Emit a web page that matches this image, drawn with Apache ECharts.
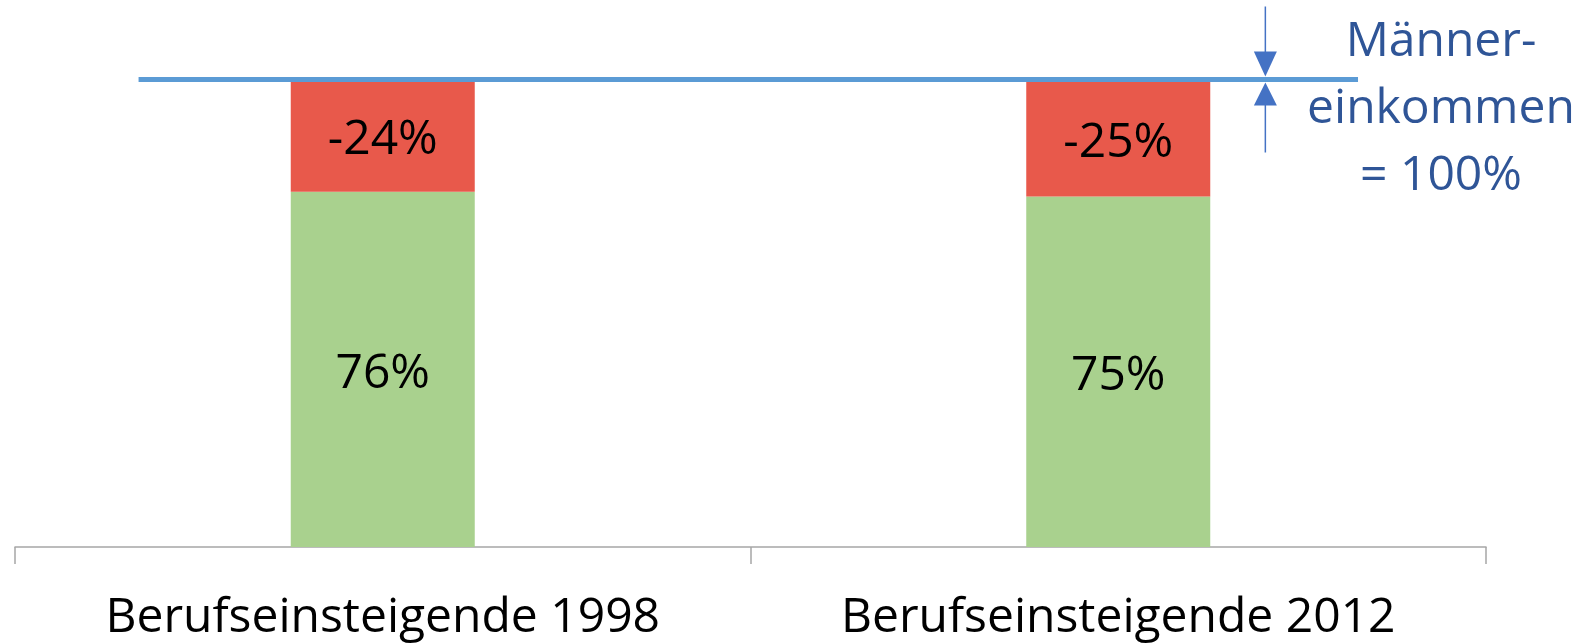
<!DOCTYPE html>
<html>
<head>
<meta charset="utf-8">
<script src="https://cdn.jsdelivr.net/npm/echarts@6/dist/echarts.min.js"></script>
<style>
  html, body { margin: 0; padding: 0; background: #fff; }
  #main { width: 1580px; height: 644px; }
</style>
</head>
<body>
<div id="main"></div>
<script>
// Daten
const categories = ['Berufseinsteigende 1998', 'Berufseinsteigende 2012'];
const womenShare = [76, 75];   // Fraueneinkommen in % vom Männereinkommen
const gapShare = [24, 25];     // Lücke zum Männereinkommen
const referenceValue = 100;    // Männereinkommen = 100%
const refLineSpan = [0.084, 0.913];  // Ausdehnung der Referenzlinie (Anteil der x-Breite)
const arrowPos = 0.85;
const refLabel = 'Männer-\neinkommen\n= 100%';

const FONT = '"Open Sans", "Noto Sans", sans-serif';
const chart = echarts.init(document.getElementById('main'));

chart.setOption({
    animation: false,
    grid: { left: 15, right: 94, top: 79.5, bottom: 97 },
    xAxis: [
        {
            type: 'category',
            data: categories,
            axisLine: { lineStyle: { color: '#A6A6A6', width: 1.5 } },
            axisTick: { show: true, length: 17, lineStyle: { color: '#A6A6A6', width: 1.5 } },
            axisLabel: { color: '#000', fontFamily: FONT, fontSize: 48, margin: 47 }
        },
        { type: 'value', min: 0, max: 1, show: false }
    ],
    yAxis: { type: 'value', min: 0, max: 100, show: false },
    series: [
        {
            name: 'Frauen',
            type: 'bar',
            stack: 'a',
            barWidth: 184,
            itemStyle: { color: '#A9D18E' },
            label: {
                show: true, position: 'inside', color: '#000',
                fontFamily: FONT, fontSize: 48, offset: [0, 5],
                formatter: p => p.value + '%'
            },
            data: womenShare
        },
        {
            name: 'Lücke',
            type: 'bar',
            stack: 'a',
            barWidth: 184,
            itemStyle: { color: '#E8594B' },
            label: {
                show: true, position: 'inside', color: '#000',
                fontFamily: FONT, fontSize: 48, offset: [0, 5],
                formatter: p => '-' + p.value + '%'
            },
            data: gapShare
        },
        {
            name: 'Männer',
            type: 'line',
            xAxisIndex: 1,
            symbol: 'none',
            lineStyle: { color: '#5B9BD5', width: 5 },
            z: 5,
            data: refLineSpan.map(x => [x, referenceValue])
        }
    ]
});

// Pfeile und Beschriftung an der Referenzlinie
const ax = chart.convertToPixel({ xAxisIndex: 1 }, arrowPos);
const ay = chart.convertToPixel({ yAxisIndex: 0 }, referenceValue);
const arrowColor = '#4472C4';
chart.setOption({
    graphic: [
        { type: 'line', shape: { x1: ax, y1: ay - 73, x2: ax, y2: ay - 20 }, style: { stroke: arrowColor, lineWidth: 1.5 } },
        { type: 'polygon', shape: { points: [[ax - 11.5, ay - 28], [ax + 11.5, ay - 28], [ax, ay - 3]] }, style: { fill: arrowColor } },
        { type: 'line', shape: { x1: ax, y1: ay + 20, x2: ax, y2: ay + 73 }, style: { stroke: arrowColor, lineWidth: 1.5 } },
        { type: 'polygon', shape: { points: [[ax - 11.5, ay + 26], [ax + 11.5, ay + 26], [ax, ay + 3]] }, style: { fill: arrowColor } },
        {
            type: 'text', x: 1441, y: 9,
            style: {
                text: refLabel, fill: '#2F5597', font: '48px ' + FONT,
                align: 'center', lineHeight: 67
            }
        }
    ]
});
</script>
</body>
</html>
